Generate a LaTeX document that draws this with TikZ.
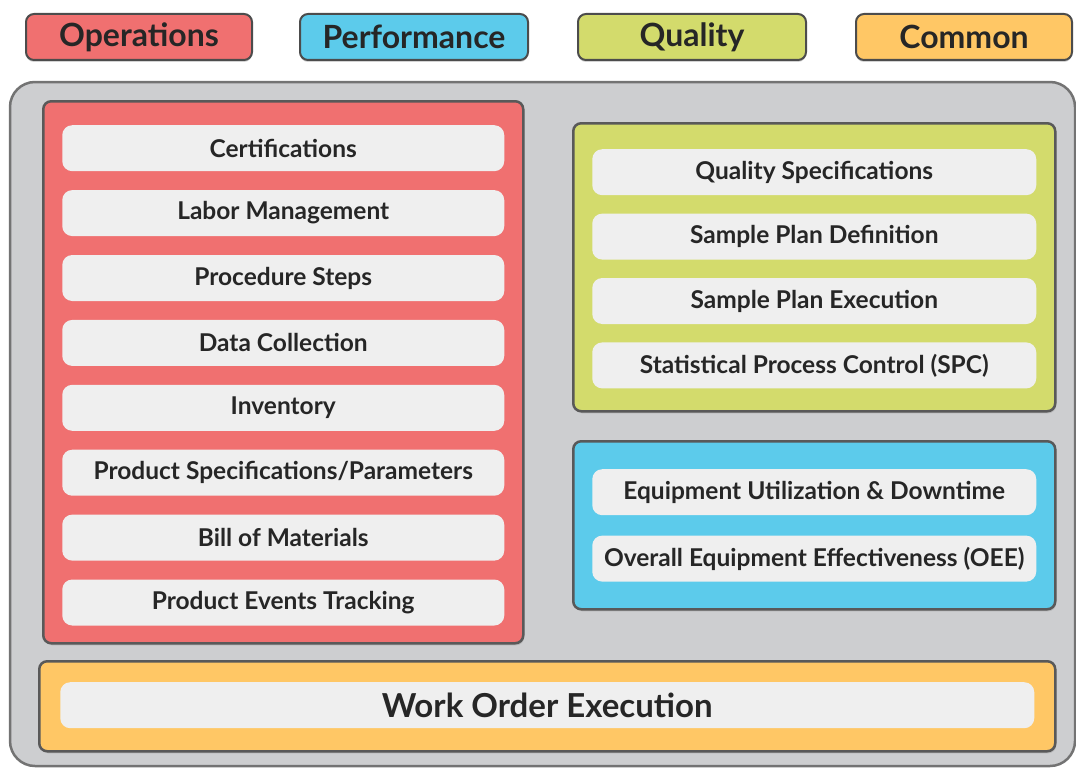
\documentclass[tikz,border=0pt]{standalone}
\usepackage{fontspec}
\setmainfont{Lato}
\usetikzlibrary{positioning,shadows}
\definecolor{opsred}{HTML}{F07070}
\definecolor{perfblue}{HTML}{5CCBEB}
\definecolor{qualgreen}{HTML}{D3DB6C}
\definecolor{commonorange}{HTML}{FFC765}
\definecolor{itemgray}{HTML}{EFEFEF}
\definecolor{framegray}{HTML}{CDCED0}
\tikzset{
  legendbox/.style={draw=black!70, line width=2pt, rounded corners=8pt, minimum height=46pt,
    inner sep=0pt, font=\fontsize{32}{34}\selectfont\bfseries, text=black!85,
    drop shadow={shadow xshift=0pt, shadow yshift=-2pt, opacity=0.35}},
  panel/.style={draw=black!65, line width=2.5pt, rounded corners=8pt, inner sep=0pt,
    anchor=north west, drop shadow={shadow xshift=1pt, shadow yshift=-2pt, opacity=0.3}},
  item/.style={fill=itemgray, rounded corners=10pt, minimum height=46pt, inner sep=0pt,
    font=\fontsize{24.5}{27}\selectfont\bfseries, text=black!85},
}
\begin{document}
\begin{tikzpicture}[x=1pt, y=-1pt]
  \useasboundingbox (0,0) rectangle (1076,768);
  % legende
  \node [legendbox, fill=opsred, minimum width=226pt] (lops) at (139,37) {Operations};
  \node [legendbox, fill=perfblue, minimum width=228pt] (lperf) at (414,37) {Performance};
  \node [legendbox, fill=qualgreen, minimum width=228pt] (lqual) at (692,37) {Quality};
  \node [legendbox, fill=commonorange, minimum width=216pt] (lcom) at (964,37) {Common};
  % okvir
  \draw [fill=framegray, draw=black!55, line width=2.5pt, rounded corners=25pt]
    (10,82) rectangle (1075,766);
  % operations
  \node [panel, fill=opsred, minimum width=480pt, minimum height=542pt] (ops) at (42,100) {};
  \node [item, minimum width=442pt, below=25pt of ops.north] (cert) {Certifications};
  \node [item, minimum width=442pt, below=18.5pt of cert] (labor) {Labor Management};
  \node [item, minimum width=442pt, below=18.5pt of labor] (proc) {Procedure Steps};
  \node [item, minimum width=442pt, below=18.5pt of proc] (data) {Data Collection};
  \node [item, minimum width=442pt, below=18.5pt of data] (inv) {Inventory};
  \node [item, minimum width=442pt, below=18.5pt of inv] (pspec) {Product Specifications/Parameters};
  \node [item, minimum width=442pt, below=18.5pt of pspec] (bom) {Bill of Materials};
  \node [item, minimum width=442pt, below=18.5pt of bom] (events) {Product Events Tracking};
  % quality
  \node [panel, fill=qualgreen, minimum width=482pt, minimum height=288pt] (qual) at (572,122) {};
  \node [item, minimum width=444pt, below=27pt of qual.north] (qspec) {Quality Specifications};
  \node [item, minimum width=444pt, below=18pt of qspec] (spdef) {Sample Plan Definition};
  \node [item, minimum width=444pt, below=18pt of spdef] (spexec) {Sample Plan Execution};
  \node [item, minimum width=444pt, below=18pt of spexec] (spc) {Statistical Process Control (SPC)};
  % performance
  \node [panel, fill=perfblue, minimum width=482pt, minimum height=168pt] (perf) at (572,440) {};
  \node [item, minimum width=444pt, below=29pt of perf.north] (util) {Equipment Utilization \& Downtime};
  \node [item, minimum width=444pt, below=20pt of util] (oee) {Overall Equipment Effectiveness (OEE)};
  % common
  \node [panel, fill=commonorange, minimum width=1016pt, minimum height=90pt] (com) at (38,660) {};
  \node [item, minimum width=974pt, font=\fontsize{33}{36}\selectfont\bfseries,
    below=22pt of com.north] (woe) {Work Order Execution};
\end{tikzpicture}
\end{document}
